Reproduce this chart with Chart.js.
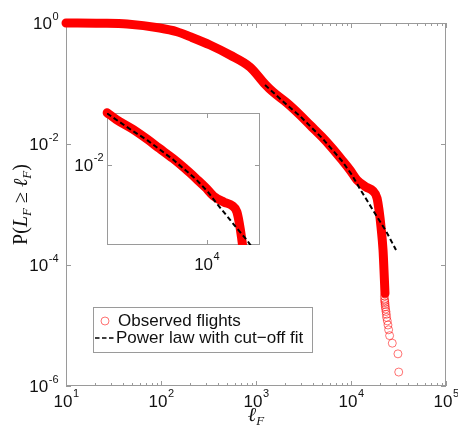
<!DOCTYPE html>
<html>
<head>
<meta charset="utf-8">
<script src="https://cdn.jsdelivr.net/npm/chart.js@4.4.1/dist/chart.umd.min.js"></script>
<style>
  html, body { margin: 0; padding: 0; background: #fff; }
  #wrap { position: relative; width: 458px; height: 426px; }
  #wrap canvas { position: absolute; left: 0; top: 0; }
</style>
</head>
<body>
<div id="wrap">
  <canvas id="mainChart" width="458" height="426"></canvas>
  <canvas id="insetChart" width="458" height="426"></canvas>
</div>
<script>
// observed flights, dense part of the CCDF (reads as a solid band)
const denseLength = [10, 23, 44, 97, 147, 202, 328, 532, 865, 1250, 1510, 2120, 2905, 3700, 4950, 6310, 8040, 9750, 11560, 14380, 17060, 18790, 19720, 20700, 21730, 22240, 22790];
const denseProb = [1.0, 0.99, 0.963, 0.827, 0.718, 0.594, 0.433, 0.296, 0.187, 0.097, 0.0724, 0.0476, 0.0302, 0.0206, 0.0131, 0.0086, 0.00544, 0.00372, 0.00254, 0.00195, 0.00167, 0.00128, 0.000812, 0.000425, 0.000177, 8.3e-5, 3.4e-5];
// observed flights, the last few (single open circles)
const tailLength = [22450, 22550, 22650, 22750, 22850, 22950, 23150, 23350, 23550, 23700, 24100, 24500, 24900, 25500, 27200, 31200, 31800];
const tailProb = [3.06e-5, 2.72e-5, 2.55e-5, 2.38e-5, 2.21e-5, 2.04e-5, 1.87e-5, 1.7e-5, 1.53e-5, 1.36e-5, 1.19e-5, 1.02e-5, 8.5e-6, 6.8e-6, 5.1e-6, 3.4e-6, 1.7e-6];
// power law with cut-off fit
const fitLength = [1245, 2120, 2905, 4950, 8040, 10250, 12450, 15100, 18300, 23350, 29770];
const fitProb = [0.0944, 0.0441, 0.029, 0.01257, 0.00524, 0.00307, 0.0018, 0.0011, 0.00067, 0.000365, 0.000177];

const seriesNames = ["Observed flights", "Power law with cut\u2212off fit"];

const xTicks = [1e1, 1e2, 1e3, 1e4, 1e5];
const xTickExp = ["1", "2", "3", "4", "5"];
const yTicks = [1e-6, 1e-4, 1e-2, 1e0];
const yTickExp = ["-6", "-4", "-2", "0"];
const insetXTicks = [1e4];
const insetXTickExp = ["4"];
const insetYTicks = [1e-2];
const insetYTickExp = ["-2"];

const sans = '"Liberation Sans", Arial, sans-serif';
const serif = '"Liberation Serif", "DejaVu Serif", serif';
const axisGray = "#9a9a9a";

const toXY = (xs, ys) => xs.map((x, i) => ({ x, y: ys[i] }));

function drawPieces(ctx, pieces, x, y) {
    let w = 0;
    pieces.forEach(p => { ctx.font = p.font; w += ctx.measureText(p.t).width; });
    let cx = x - w / 2;
    pieces.forEach(p => {
        ctx.font = p.font;
        ctx.fillText(p.t, cx, y + (p.dy || 0));
        cx += ctx.measureText(p.t).width;
    });
}

// "10" with a raised exponent; anchor is the centre (x axis) or the right edge (y axis)
function drawPower(ctx, exp, x, y, anchor) {
    const big = `17px ${sans}`, small = `11px ${sans}`;
    ctx.font = big;
    const wb = ctx.measureText("10").width;
    ctx.font = small;
    const ws = ctx.measureText(exp).width;
    const left = anchor === "right" ? x - wb - ws : x - (wb + ws) / 2;
    ctx.textBaseline = "middle";
    ctx.font = big;
    ctx.fillText("10", left, y);
    ctx.font = small;
    ctx.fillText(exp, left + wb + 0.5, y - 8);
}

const logFrame = {
    id: "logFrame",
    beforeDatasetsDraw(chart, args, o) {
        const { ctx, chartArea: a, scales: { x, y } } = chart;
        ctx.save();
        if (o.fill) {
            ctx.fillStyle = "#fff";
            ctx.fillRect(a.left, a.top, a.right - a.left, a.bottom - a.top);
        }
        ctx.strokeStyle = axisGray;
        ctx.lineWidth = 1;
        ctx.strokeRect(a.left + 0.5, a.top + 0.5, a.right - a.left - 1, a.bottom - a.top - 1);
        ctx.beginPath();
        const xTick = (v, len) => {
            const px = Math.round(x.getPixelForValue(v)) + 0.5;
            ctx.moveTo(px, a.bottom); ctx.lineTo(px, a.bottom - len);
            ctx.moveTo(px, a.top); ctx.lineTo(px, a.top + len);
        };
        const yTick = (v, len) => {
            const py = Math.round(y.getPixelForValue(v)) + 0.5;
            ctx.moveTo(a.left, py); ctx.lineTo(a.left + len, py);
            ctx.moveTo(a.right, py); ctx.lineTo(a.right - len, py);
        };
        o.xTicks.forEach(v => xTick(v, 5));
        o.yTicks.forEach(v => yTick(v, 5));
        if (o.minorX) {
            for (let d = x.min; d < x.max; d *= 10) {
                for (let m = 2; m <= 9; m++) xTick(m * d, 3);
            }
        }
        ctx.stroke();
        ctx.restore();
    },
    afterDraw(chart, args, o) {
        const { ctx, chartArea: a, scales: { x, y } } = chart;
        ctx.save();
        ctx.fillStyle = "#111";
        ctx.textAlign = "left";
        o.xTicks.forEach((v, i) => drawPower(ctx, o.xExp[i], x.getPixelForValue(v), a.bottom + o.xGap, "center"));
        o.yTicks.forEach((v, i) => drawPower(ctx, o.yExp[i], a.left - o.yGap, y.getPixelForValue(v) + 1.5, "right"));
        ctx.restore();
    }
};

const axisTitles = {
    id: "axisTitles",
    afterDraw(chart) {
        const { ctx, chartArea: a } = chart;
        ctx.save();
        ctx.fillStyle = "#111";
        ctx.textBaseline = "alphabetic";
        ctx.textAlign = "left";
        drawPieces(ctx, [
            { t: "\u2113", font: `italic 20px ${serif}` },
            { t: "F", font: `italic 13px ${serif}`, dy: 4 }
        ], (a.left + a.right) / 2, 421);
        ctx.translate(27, (a.top + a.bottom) / 2);
        ctx.rotate(-Math.PI / 2);
        drawPieces(ctx, [
            { t: "P(", font: `20px ${serif}` },
            { t: "L", font: `italic 20px ${serif}` },
            { t: "F", font: `italic 13px ${serif}`, dy: 4 },
            { t: " \u2265 ", font: `20px ${serif}` },
            { t: "\u2113", font: `italic 20px ${serif}` },
            { t: "F", font: `italic 13px ${serif}`, dy: 4 },
            { t: ")", font: `20px ${serif}` }
        ], 0, 0);
        ctx.restore();
    }
};

const boxLegend = {
    id: "boxLegend",
    afterDraw(chart, args, o) {
        const { ctx } = chart;
        const ds = chart.data.datasets;
        const obs = ds.find(d => d.label === seriesNames[0]);
        const fit = ds.find(d => d.label === seriesNames[1]);
        ctx.save();
        ctx.fillStyle = "#fff";
        ctx.fillRect(o.x, o.y, o.w, o.h);
        ctx.strokeStyle = axisGray;
        ctx.lineWidth = 1;
        ctx.strokeRect(o.x + 0.5, o.y + 0.5, o.w, o.h);
        const r1 = o.y + 14, r2 = o.y + 31;
        ctx.beginPath();
        ctx.arc(o.x + 12, r1, 4, 0, Math.PI * 2);
        ctx.strokeStyle = obs.pointBorderColor;
        ctx.stroke();
        ctx.beginPath();
        ctx.setLineDash([4.5, 2.5]);
        ctx.moveTo(o.x + 2, r2);
        ctx.lineTo(o.x + 22, r2);
        ctx.strokeStyle = fit.borderColor;
        ctx.lineWidth = 1.6;
        ctx.stroke();
        ctx.setLineDash([]);
        ctx.fillStyle = "#111";
        ctx.font = `17px ${sans}`;
        ctx.textBaseline = "middle";
        ctx.fillText(obs.label, o.x + 25, r1);
        ctx.fillText(fit.label, o.x + 23, r2);
        ctx.restore();
    }
};

function datasets(inset, xMin) {
    const keep = p => !inset || p.x >= xMin;
    const list = [
        {
            label: seriesNames[1],
            data: toXY(fitLength, fitProb),
            borderColor: "#000",
            borderWidth: 2,
            borderDash: [5, 3],
            pointRadius: 0,
            order: 0
        },
        {
            label: "band",
            data: toXY(denseLength, denseProb).filter(keep),
            borderColor: "#ff0000",
            borderWidth: 9,
            borderCapStyle: "round",
            borderJoinStyle: "round",
            cubicInterpolationMode: "monotone",
            pointRadius: 0,
            clip: inset ? { left: 6, top: 6, right: 0, bottom: 0 } : false,
            order: 2
        }
    ];
    if (!inset) {
        list.push({
            label: seriesNames[0],
            data: toXY(tailLength, tailProb),
            showLine: false,
            pointRadius: 4,
            pointBorderWidth: 1,
            pointBackgroundColor: "rgba(0,0,0,0)",
            pointBorderColor: "rgba(255,0,0,0.55)",
            clip: false,
            order: 1
        });
    }
    return list;
}

function baseOptions(padding, xr, yr, frame) {
    return {
        responsive: false,
        animation: false,
        events: [],
        layout: { padding },
        plugins: {
            legend: { display: false },
            tooltip: { enabled: false },
            logFrame: frame
        },
        scales: {
            x: { type: "logarithmic", min: xr[0], max: xr[1], display: false },
            y: { type: "logarithmic", min: yr[0], max: yr[1], display: false }
        }
    };
}

const mainOptions = baseOptions({ left: 66, top: 23, right: 12, bottom: 40 }, [1e1, 1e5], [1e-6, 1e0], {
    xTicks, xExp: xTickExp, yTicks, yExp: yTickExp, minorX: true, xGap: 16, yGap: 8
});
mainOptions.plugins.boxLegend = { x: 93, y: 307, w: 219, h: 45 };

new Chart(document.getElementById("mainChart"), {
    type: "line",
    data: { datasets: datasets(false) },
    options: mainOptions,
    plugins: [logFrame, axisTitles, boxLegend]
});

const insetX = [1245, 30500];
const insetY = [3.2e-4, 0.096];
new Chart(document.getElementById("insetChart"), {
    type: "line",
    data: { datasets: datasets(true, insetX[0]) },
    options: baseOptions({ left: 107, top: 113, right: 198, bottom: 181 }, insetX, insetY, {
        xTicks: insetXTicks, xExp: insetXTickExp, yTicks: insetYTicks, yExp: insetYTickExp,
        minorX: false, xGap: 20, yGap: 4, fill: true
    }),
    plugins: [logFrame]
});
</script>
</body>
</html>
